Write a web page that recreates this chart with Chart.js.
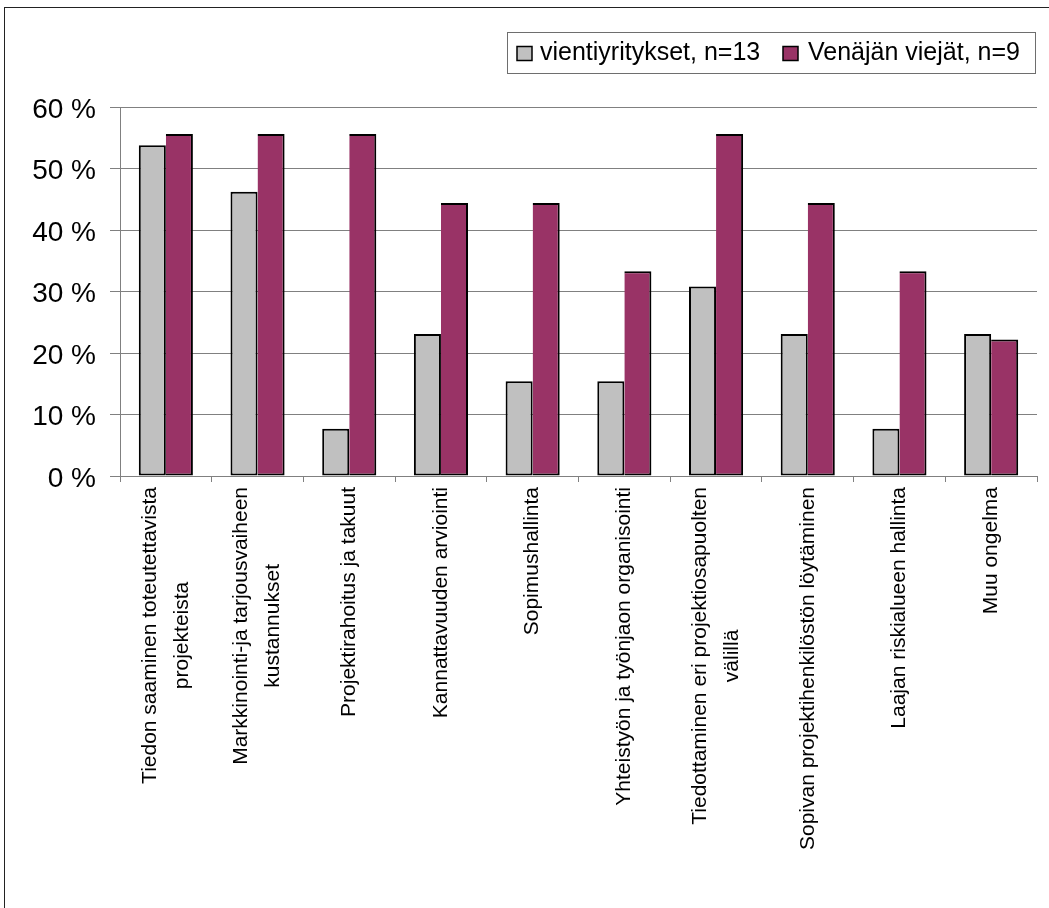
<!DOCTYPE html>
<html>
<head>
<meta charset="utf-8">
<script src="https://cdn.jsdelivr.net/npm/chart.js@4/dist/chart.umd.min.js"></script>
<style>
    html, body { margin: 0; padding: 0; background: #fff; }
    #wrap { position: relative; width: 1049px; height: 908px; }
</style>
</head>
<body>
<div id="wrap"><canvas id="chart"></canvas></div>
<script>
// --- Data ---
const categories = [
    ['Tiedon saaminen toteutettavista', 'projekteista'],
    ['Markkinointi-ja tarjousvaiheen', 'kustannukset'],
    'Projektirahoitus ja takuut',
    'Kannattavuuden arviointi',
    'Sopimushallinta',
    'Yhteistyön ja työnjaon organisointi',
    ['Tiedottaminen eri projektiosapuolten', 'välillä'],
    'Sopivan projektihenkilöstön löytäminen',
    'Laajan riskialueen hallinta',
    'Muu ongelma'
];
const seriesNames = ['vientiyritykset, n=13', 'Venäjän viejät, n=9'];
const vientiyritykset = [53.8, 46.2, 7.7, 23.1, 15.4, 15.4, 30.8, 23.1, 7.7, 23.1];
const venajanViejat = [55.6, 55.6, 55.6, 44.4, 44.4, 33.3, 55.6, 44.4, 33.3, 22.2];
const yTicks = [0, 10, 20, 30, 40, 50, 60];

const FONT = 'Arial, "Liberation Sans", sans-serif';
const GRID = '#808080';

// outer frame (right/bottom edges lie outside the picture)
const framePlugin = {
    id: 'frame',
    beforeDraw(chart) {
        const ctx = chart.ctx;
        ctx.save();
        ctx.strokeStyle = '#222';
        ctx.lineWidth = 1;
        ctx.strokeRect(4.5, 7.5, 2000, 2000);
        ctx.restore();
    }
};

// rotated, centre-aligned multi-line category labels
const xLabelsPlugin = {
    id: 'xLabels',
    afterDraw(chart) {
        const ctx = chart.ctx;
        const xs = chart.scales.x;
        const top = chart.chartArea.bottom + 11;
        const lineH = 32;
        ctx.save();
        ctx.font = `21px ${FONT}`;
        ctx.fillStyle = '#000';
        ctx.textAlign = 'center';
        ctx.textBaseline = 'middle';
        chart.data.labels.forEach((label, i) => {
            const lines = Array.isArray(label) ? label : [label];
            const maxW = Math.max(...lines.map(l => ctx.measureText(l).width));
            ctx.save();
            ctx.translate(xs.getPixelForValue(i), top);
            ctx.rotate(-Math.PI / 2);
            lines.forEach((line, j) => {
                ctx.fillText(line, -maxW / 2, (j - (lines.length - 1) / 2) * lineH);
            });
            ctx.restore();
        });
        ctx.restore();
    }
};

// boxed legend in the top right corner
const boxLegendPlugin = {
    id: 'boxLegend',
    afterDraw(chart) {
        const ctx = chart.ctx;
        const box = { left: 507, top: 32, right: 1035, bottom: 73 };
        const swatchX = [517, 783];
        const textX = [540, 808];
        const cy = 53.5;
        ctx.save();
        ctx.strokeStyle = '#6e6e6e';
        ctx.lineWidth = 1;
        ctx.strokeRect(box.left + 0.5, box.top + 0.5, box.right - box.left, box.bottom - box.top);
        ctx.font = `25px ${FONT}`;
        ctx.textBaseline = 'middle';
        ctx.textAlign = 'left';
        chart.data.datasets.forEach((ds, i) => {
            ctx.fillStyle = ds.backgroundColor;
            ctx.fillRect(swatchX[i], cy - 7, 15, 14);
            ctx.strokeStyle = '#000';
            ctx.lineWidth = 1.5;
            ctx.strokeRect(swatchX[i], cy - 7, 15, 14);
            ctx.fillStyle = '#000';
            ctx.fillText(ds.label, textX[i], cy);
        });
        ctx.restore();
    }
};

const ctx = document.getElementById('chart').getContext('2d');
new Chart(ctx, {
    type: 'bar',
    data: {
        labels: categories,
        datasets: [{
            label: seriesNames[0],
            data: vientiyritykset,
            backgroundColor: '#C0C0C0',
            borderColor: '#000',
            borderWidth: 2,
            borderSkipped: false
        }, {
            label: seriesNames[1],
            data: venajanViejat,
            backgroundColor: '#993366',
            borderColor: '#000',
            borderWidth: { top: 2, right: 2, bottom: 2, left: 0 },
            borderSkipped: false
        }]
    },
    options: {
        responsive: true,
        maintainAspectRatio: false,
        animation: false,
        layout: { padding: { left: 0, top: 107, right: 12, bottom: 432 } },
        datasets: { bar: { barPercentage: 1, categoryPercentage: 0.59 } },
        plugins: { legend: { display: false }, tooltip: { enabled: false } },
        scales: {
            x: {
                ticks: { display: false },
                grid: {
                    offset: true,
                    color: c => (c.index === categories.length ? GRID : 'transparent'),
                    tickColor: GRID,
                    tickLength: 6
                },
                border: { display: true, color: GRID, width: 1 },
                afterFit: s => { s.height = 0; s.paddingLeft = 0; s.paddingRight = 0; }
            },
            y: {
                min: 0,
                max: 60,
                afterBuildTicks: s => { s.ticks = yTicks.map(v => ({ value: v })); },
                ticks: {
                    padding: 14,
                    labelOffset: 3,
                    color: '#000',
                    font: { family: FONT, size: 28 },
                    callback: v => `${v} %`
                },
                grid: { color: GRID, tickColor: GRID, tickLength: 10 },
                border: { display: true, color: GRID, width: 1 },
                afterFit: s => { s.width = 120; s.paddingTop = 0; s.paddingBottom = 0; }
            }
        }
    },
    plugins: [framePlugin, xLabelsPlugin, boxLegendPlugin]
});
</script>
</body>
</html>
